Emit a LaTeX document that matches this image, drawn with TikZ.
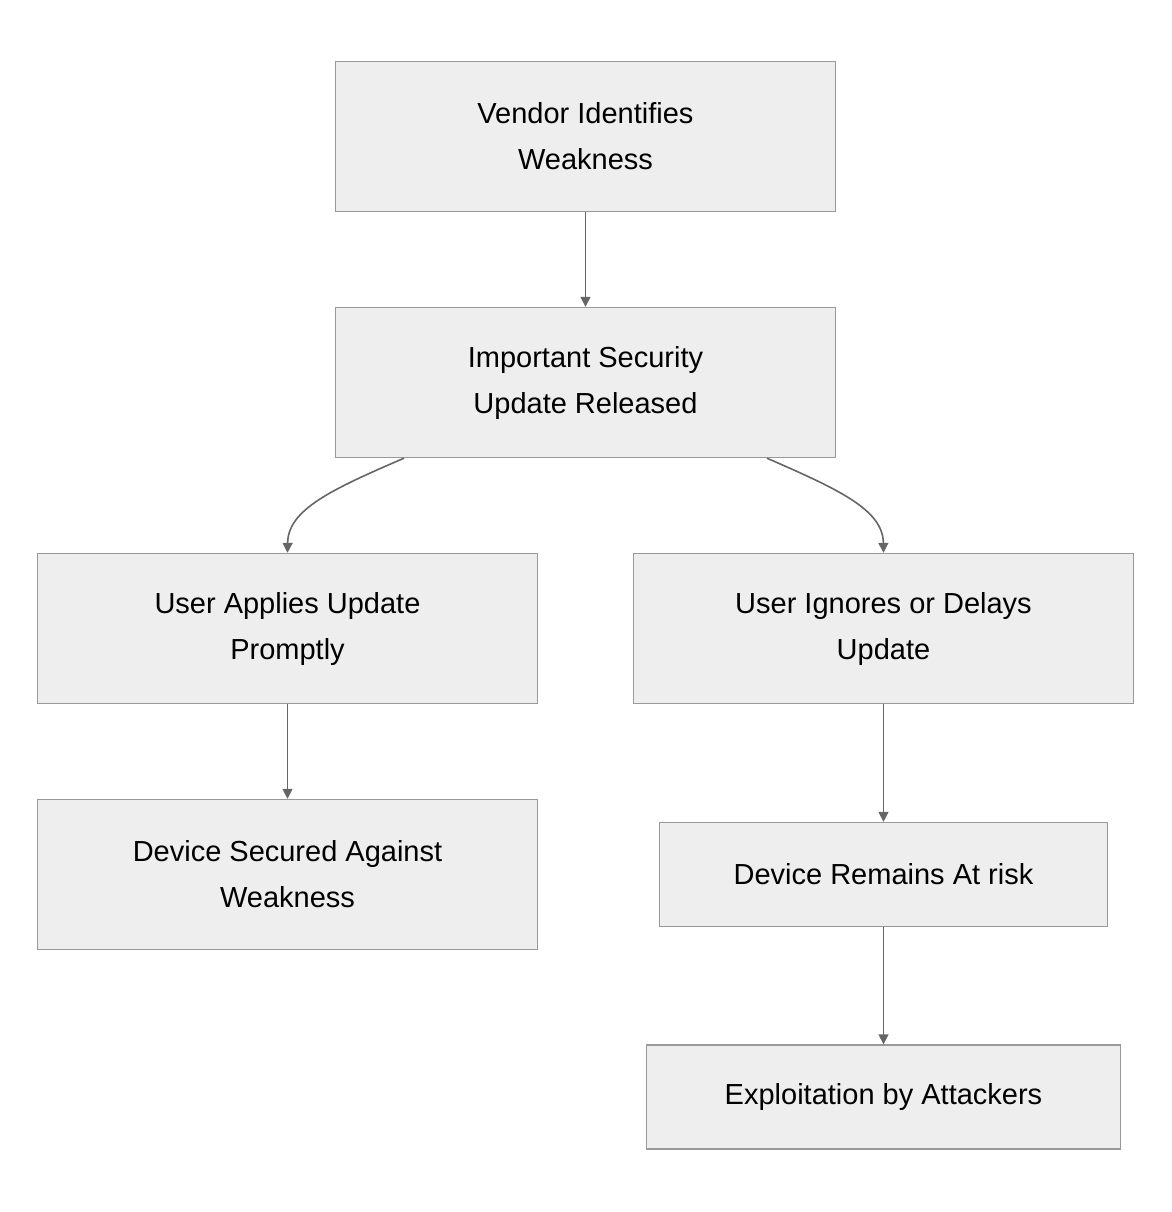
\documentclass[tikz,border=0pt]{standalone}
\usepackage{fontspec}
\setmainfont{Liberation Sans}
\usetikzlibrary{arrows.meta}
\definecolor{boxfill}{HTML}{EEEEEE}
\definecolor{boxline}{HTML}{999999}
\definecolor{arrowcol}{HTML}{666666}
\tikzset{
  stepbox/.style={draw=boxline, fill=boxfill, line width=0.7pt, align=center,
    font=\fontsize{14.5}{23}\selectfont, inner sep=0pt},
  flow/.style={draw=arrowcol, line width=0.8pt, -{Triangle[length=5pt,width=5pt]}}
}
\begin{document}
\begin{tikzpicture}[x=0.5pt, y=-0.5pt]
	\useasboundingbox (0,0) rectangle (1172,1212);
	
	% boxes
	\node [stepbox, minimum width=250pt, minimum height=75pt] (vendor) at (585.5,136.5) {Vendor Identifies\\Weakness};
	\node [stepbox, minimum width=250pt, minimum height=75pt] (release) at (585.5,382.5) {Important Security\\Update Released};
	\node [stepbox, minimum width=250pt, minimum height=75pt] (apply) at (287.5,628.5) {User Applies Update\\Promptly};
	\node [stepbox, minimum width=250pt, minimum height=75pt] (ignore) at (883.5,628.5) {User Ignores or Delays\\Update};
	\node [stepbox, minimum width=250pt, minimum height=75pt] (secured) at (287.5,874.5) {Device Secured Against\\Weakness};
	\node [stepbox, minimum width=224pt, minimum height=52pt] (risk) at (883.5,874.5) {Device Remains At risk};
	\node [stepbox, minimum width=237pt, minimum height=52pt] (exploit) at (883.5,1097) {Exploitation by Attackers};
	
	% connectors
	\draw [flow] (release.south -| 404,0) .. controls (330,490) and (288,510) .. (apply.north);
	\draw [flow] (release.south -| 767,0) .. controls (840,490) and (883,510) .. (ignore.north);
	\draw [flow] (vendor) -- (release);
	\draw [flow] (apply) -- (secured);
	\draw [flow] (ignore) -- (risk);
	\draw [flow] (risk) -- (exploit);
\end{tikzpicture}
\end{document}
